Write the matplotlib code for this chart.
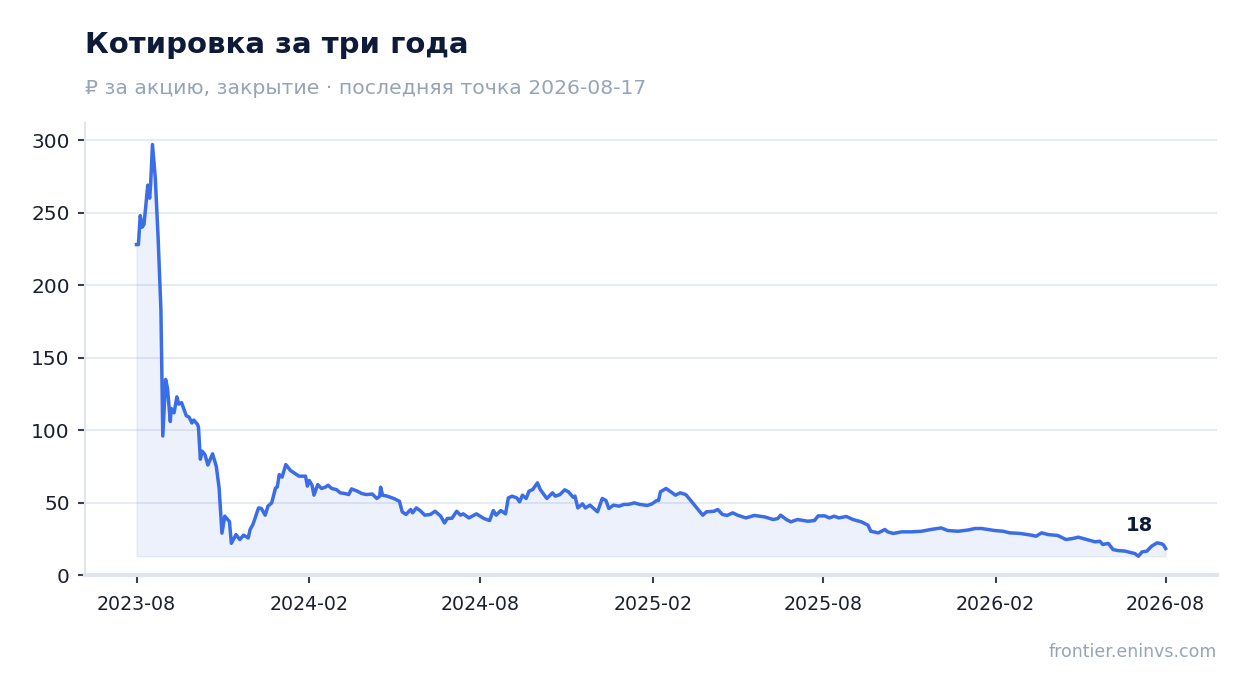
import matplotlib
matplotlib.use("Agg")
import matplotlib.pyplot as plt
import numpy as np
import pandas as pd

start_date = "2023-08-17"
day_offset = [0, 2, 4, 6, 8, 12, 14, 15, 17, 20, 23, 25, 26, 28, 31, 33, 36, 37, 40, 43, 45, 48,
              53, 56, 59, 61, 65, 66, 68, 70, 73, 76, 81, 85, 88, 91, 94, 99, 101, 106, 110, 114,
              119, 121, 124, 130, 133, 137, 140, 144, 148, 150, 152, 155, 159, 164, 169, 173, 180,
              182, 184, 187, 189, 193, 197, 201, 204, 208, 213, 217, 222, 226, 229, 235, 240, 245,
              251, 256, 259, 260, 262, 267, 274, 280, 283, 287, 292, 294, 298, 302, 307, 313, 318,
              324, 328, 331, 336, 341, 345, 348, 354, 362, 370, 376, 380, 383, 388, 393, 396, 400,
              405, 408, 411, 415, 418, 422, 427, 430, 437, 443, 446, 451, 456, 460, 465, 467, 470,
              475, 478, 483, 487, 491, 496, 500, 503, 508, 514, 519, 524, 530, 536, 544, 549, 554,
              556, 558, 564, 569, 574, 579, 585, 588, 596, 599, 603, 607, 615, 619, 624, 629, 635,
              640, 649, 658, 669, 678, 683, 686, 692, 697, 704, 715, 722, 726, 733, 738, 743, 748,
              756, 763, 772, 779, 782, 790, 797, 800, 806, 815, 825, 836, 846, 857, 864, 875, 886,
              893, 900, 914, 923, 930, 941, 953, 958, 964, 971, 981, 990, 997, 1003, 1012, 1021,
              1026, 1029, 1035, 1040, 1045, 1053, 1060, 1063, 1067, 1071, 1076, 1081, 1087, 1092,
              1094, 1096]
price = [228, 228, 248, 240, 242, 269, 260, 269, 297, 274, 233, 200, 183, 96, 135, 129, 106, 115,
         112, 123, 118, 119, 110, 109, 105, 107, 104, 102, 80, 85.5, 83, 76, 83.7, 75, 60, 29,
         40.7, 37, 22, 28, 24.6, 27.6, 25.7, 31.5, 35, 46.4, 46, 41.4, 47.6, 49.9, 60, 61, 69.4,
         67.6, 76.3, 72.2, 70, 68.3, 68.3, 61.4, 65.3, 62, 55.2, 62.5, 59.8, 60.7, 62, 59.8, 59,
         56.8, 56.3, 55.6, 59.5, 58, 56.3, 55.6, 56, 52.9, 54.5, 60.7, 55.2, 54.5, 52.9, 51, 43.7,
         41.9, 45.3, 43, 46.4, 44.6, 41.4, 41.9, 44.1, 40.7, 36, 39.1, 39.3, 44.1, 41.4, 42.3,
         39.5, 42.3, 39.1, 37.7, 44.6, 41.4, 44.6, 42.3, 53.3, 54.5, 53.3, 50.6, 55.2, 52.9, 57.9,
         59.1, 63.7, 59.1, 52.9, 56.8, 54.5, 55.6, 58.9, 57.5, 53.8, 54.5, 46.4, 49.2, 46.4, 48.3,
         46, 43.7, 52.9, 51.5, 46, 48.3, 47.6, 48.8, 48.8, 49.9, 48.8, 48.1, 49.2, 51.5, 51.5,
         57.5, 59.8, 57.5, 55.2, 56.8, 55.6, 53.3, 46.9, 44.6, 41.4, 43.7, 44.1, 45.3, 41.9, 41.2,
         43, 41.4, 39.5, 41.2, 40.2, 38.4, 39.1, 41.4, 38.4, 36.8, 38.4, 37.2, 37.7, 40.9, 40.9,
         39.5, 40.7, 39.5, 40.5, 38.4, 36.8, 34.5, 30.3, 29.2, 31.5, 29.9, 28.8, 29.9, 29.9, 30.3,
         31.5, 32.6, 30.8, 30.3, 31.2, 32.2, 32.2, 30.8, 30.3, 29.2, 28.8, 27.6, 26.9, 29.2, 28,
         27.4, 24.6, 25.3, 26.2, 24.6, 23, 23.4, 21.2, 21.9, 17.7, 17, 16.6, 15.4, 15, 13.1, 16.1,
         16.6, 20, 22.3, 21.6, 20.7, 18.4]

tick_dates = ["2023-08-17", "2024-02-17", "2024-08-17", "2025-02-17", "2025-08-17",
              "2026-02-17", "2026-08-17"]
y_ticks = [0, 50, 100, 150, 200, 250, 300]

title = "Котировка за три года"
subtitle = "₽ за акцию, закрытие · последняя точка 2026-08-17"
source = "frontier.eninvs.com"

dates = pd.Timestamp(start_date) + pd.to_timedelta(day_offset, unit="D")
vals = np.array(price, dtype=float)

LINE = "#3a6de6"
GRID = "#e3e7f0"
SPINE = "#e1e5ee"
TXT = "#1b2030"

fig = plt.figure(figsize=(12.47, 6.93), dpi=100)
ax = fig.add_axes([0.0682, 0.170, 0.9078, 0.6525])

ax.fill_between(dates, vals, vals.min(), color=LINE, alpha=0.09, linewidth=1)
ax.plot(dates, vals, color=LINE, linewidth=2.5, solid_joinstyle="round")

ax.set_ylim(0, vals.max() * 1.05)
ax.margins(x=0.05)
ax.set_yticks(y_ticks)
tdates = pd.to_datetime(tick_dates)
ax.set_xticks(tdates)
ax.set_xticklabels([d.strftime("%Y-%m") for d in tdates])

ax.grid(axis="y", color=GRID, linewidth=1.2)
ax.set_axisbelow(True)
for s in ["top", "right"]:
    ax.spines[s].set_visible(False)
ax.spines["left"].set_color(SPINE)
ax.spines["left"].set_linewidth(1.5)
ax.spines["bottom"].set_color(SPINE)
ax.spines["bottom"].set_linewidth(3)
ax.tick_params(axis="y", labelsize=14.5, colors=TXT, length=5, width=1.5, color="#3a3f4b", pad=6)
ax.tick_params(axis="x", labelsize=13.7, colors=TXT, length=6, width=1.5, color="#3a3f4b", pad=8)

ax.annotate(f"{vals[-1]:.0f}", xy=(dates[-1], vals[-1]), xytext=(-9, 10),
            textcoords="offset points", ha="right", va="bottom",
            fontsize=14, fontweight="bold", color="#0e1a3a")

fig.text(0.0682, 0.935, title, fontsize=21, fontweight="bold", color="#0e1a3a",
         ha="left", va="center")
fig.text(0.0682, 0.873, subtitle, fontsize=14.7, color="#97a4b8", ha="left", va="center")
fig.text(0.976, 0.059, source, fontsize=12.5, color="#97a4b8", ha="right", va="center")

fig.savefig("out.png", dpi=100)
